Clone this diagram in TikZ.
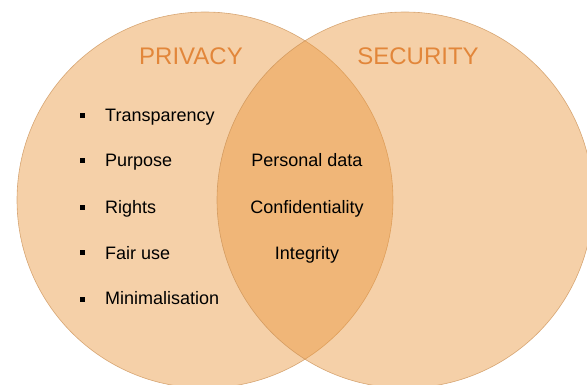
\documentclass[tikz,border=0pt]{standalone}
\usepackage{fontspec}
\setmainfont{Liberation Sans}
\usetikzlibrary{positioning}
\definecolor{vennfill}   {RGB}{233,151,62}
\definecolor{vennline}   {RGB}{200,140,80}
\definecolor{titleorange}{RGB}{226,134,58}

\begin{document}
\begin{tikzpicture}[
  x=1pt, y=-1pt,
  set/.style   ={circle, fill=vennfill, fill opacity=0.45,
                 draw=vennline, draw opacity=0.7, line width=0.6pt,
                 minimum size=376pt, inner sep=0pt},
  settitle/.style={font=\fontsize{24}{28}\selectfont,
                 text=titleorange, anchor=base},
  item/.style  ={font=\fontsize{18}{21}\selectfont,
                 anchor=base west, inner sep=0pt},
  shared/.style={font=\fontsize{18}{21}\selectfont,
                 anchor=base, inner sep=0pt},
  bullet/.style={fill=black, minimum size=5pt, inner sep=0pt},
]
\useasboundingbox (0,0) rectangle (587,385);
\clip (0,0) rectangle (587,385);

%-- the two sets
\node[set] (P) at (205,200) {};
\node[set] (S) at (405,200) {};

\node[settitle] (Ptitle) at (191,65) {PRIVACY};
\node[settitle] (Stitle) at (418,65) {SECURITY};

%-- privacy only
\foreach \y/\txt [count=\i] in {116/Transparency, 161/Purpose,
    208/Rights, 253/Fair use, 299/Minimalisation} {
  \node[bullet] (b\i) at (82,\y) {};
  \node[item]   (t\i) at (105,\y+6) {\txt};
}

%-- shared part
\node[shared] (pd)  at (307,167) {Personal data};
\node[shared] (cf)  at (307,214) {Confidentiality};
\node[shared] (itg) at (307,259) {Integrity};

\end{tikzpicture}
\end{document}
